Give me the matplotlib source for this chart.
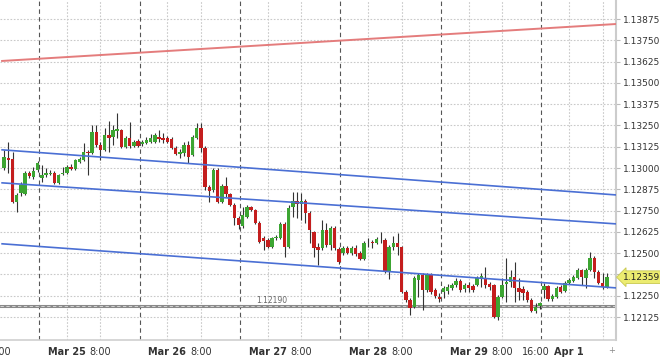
import matplotlib
matplotlib.use("Agg")
import matplotlib.pyplot as plt
import matplotlib.transforms as mtransforms
import pandas as pd

# EUR/USD hourly candles (weekends skipped)
times = list(pd.date_range("2019-03-22 09:00", "2019-03-22 16:00", freq="h")) + \
        list(pd.date_range("2019-03-24 17:00", "2019-03-29 16:00", freq="h")) + \
        list(pd.date_range("2019-03-31 17:00", "2019-04-01 09:00", freq="h"))

opens = [1.13001, 1.13060, 1.13054, 1.12801, 1.12854, 1.12848, 1.12972, 1.12948, 1.12989, 1.12942,
         1.12960, 1.12966, 1.12972, 1.12913, 1.12966, 1.12972, 1.13007, 1.12995, 1.13036, 1.13048,
         1.13095, 1.13089, 1.13212, 1.13136, 1.13107, 1.13195, 1.13183, 1.13218, 1.13224, 1.13124,
         1.13177, 1.13130, 1.13159, 1.13142, 1.13148, 1.13154, 1.13154, 1.13183, 1.13177, 1.13177,
         1.13171, 1.13118, 1.13083, 1.13089, 1.13136, 1.13077, 1.13177, 1.13236, 1.13118, 1.12889,
         1.12872, 1.12989, 1.12801, 1.12895, 1.12848, 1.12784, 1.12707, 1.12660, 1.12713, 1.12772,
         1.12754, 1.12678, 1.12590, 1.12578, 1.12537, 1.12590, 1.12590, 1.12672, 1.12537, 1.12772,
         1.12807, 1.12790, 1.12807, 1.12737, 1.12625, 1.12537, 1.12531, 1.12637, 1.12549, 1.12649,
         1.12525, 1.12502, 1.12531, 1.12502, 1.12531, 1.12502, 1.12467, 1.12567, 1.12567, 1.12561,
         1.12578, 1.12578, 1.12390, 1.12537, 1.12561, 1.12537, 1.12273, 1.12226, 1.12185, 1.12343,
         1.12373, 1.12285, 1.12373, 1.12285, 1.12244, 1.12273, 1.12279, 1.12296, 1.12314, 1.12338,
         1.12291, 1.12314, 1.12308, 1.12314, 1.12355, 1.12355, 1.12320, 1.12314, 1.12126, 1.12244,
         1.12320, 1.12332, 1.12361, 1.12296, 1.12291, 1.12273, 1.12226, 1.12161, 1.12191, 1.12285,
         1.12308, 1.12232, 1.12244, 1.12302, 1.12279, 1.12326, 1.12338, 1.12355, 1.12402, 1.12355,
         1.12402, 1.12473, 1.12390, 1.12326, 1.12302]
highs = [1.13107, 1.13154, 1.13095, 1.12854, 1.12919, 1.12983, 1.12983, 1.13007, 1.13042, 1.13018,
         1.13001, 1.12989, 1.12983, 1.12966, 1.13007, 1.13018, 1.13024, 1.13054, 1.13065, 1.13148,
         1.13107, 1.13253, 1.13253, 1.13154, 1.13236, 1.13277, 1.13253, 1.13324, 1.13230, 1.13189,
         1.13271, 1.13165, 1.13171, 1.13165, 1.13183, 1.13200, 1.13206, 1.13224, 1.13206, 1.13189,
         1.13183, 1.13130, 1.13112, 1.13154, 1.13159, 1.13195, 1.13265, 1.13265, 1.13130, 1.12901,
         1.13001, 1.13001, 1.12907, 1.12948, 1.12854, 1.12795, 1.12719, 1.12772, 1.12784, 1.12778,
         1.12760, 1.12690, 1.12602, 1.12590, 1.12596, 1.12608, 1.12684, 1.12684, 1.12784, 1.12860,
         1.12860, 1.12854, 1.12819, 1.12748, 1.12631, 1.12561, 1.12696, 1.12678, 1.12660, 1.12660,
         1.12537, 1.12543, 1.12543, 1.12543, 1.12549, 1.12514, 1.12572, 1.12590, 1.12578, 1.12596,
         1.12625, 1.12590, 1.12549, 1.12602, 1.12619, 1.12543, 1.12285, 1.12238, 1.12367, 1.12385,
         1.12385, 1.12385, 1.12385, 1.12296, 1.12267, 1.12308, 1.12320, 1.12326, 1.12355, 1.12349,
         1.12326, 1.12332, 1.12320, 1.12367, 1.12385, 1.12420, 1.12332, 1.12320, 1.12255, 1.12355,
         1.12473, 1.12402, 1.12449, 1.12355, 1.12308, 1.12285, 1.12238, 1.12208, 1.12214, 1.12326,
         1.12314, 1.12261, 1.12308, 1.12314, 1.12338, 1.12355, 1.12373, 1.12414, 1.12408, 1.12414,
         1.12508, 1.12484, 1.12402, 1.12385, 1.12385]
lows = [1.12989, 1.12972, 1.12795, 1.12743, 1.12837, 1.12842, 1.12942, 1.12936, 1.12977, 1.12919,
        1.12948, 1.12960, 1.12907, 1.12907, 1.12960, 1.12966, 1.12989, 1.12989, 1.13030, 1.13042,
        1.12960, 1.13083, 1.13124, 1.13048, 1.13101, 1.13095, 1.13136, 1.13177, 1.13118, 1.13118,
        1.13118, 1.13124, 1.13124, 1.13130, 1.13142, 1.13148, 1.13148, 1.13154, 1.13148, 1.13148,
        1.13112, 1.13077, 1.13060, 1.13071, 1.13030, 1.13071, 1.13171, 1.13095, 1.12872, 1.12801,
        1.12860, 1.12795, 1.12795, 1.12831, 1.12778, 1.12666, 1.12643, 1.12649, 1.12707, 1.12748,
        1.12672, 1.12561, 1.12520, 1.12531, 1.12531, 1.12578, 1.12584, 1.12478, 1.12531, 1.12713,
        1.12707, 1.12696, 1.12678, 1.12561, 1.12478, 1.12431, 1.12520, 1.12537, 1.12520, 1.12520,
        1.12437, 1.12490, 1.12496, 1.12490, 1.12484, 1.12461, 1.12461, 1.12537, 1.12531, 1.12555,
        1.12561, 1.12385, 1.12349, 1.12520, 1.12490, 1.12267, 1.12214, 1.12138, 1.12179, 1.12244,
        1.12167, 1.12273, 1.12261, 1.12238, 1.12214, 1.12238, 1.12261, 1.12285, 1.12302, 1.12273,
        1.12273, 1.12273, 1.12273, 1.12308, 1.12302, 1.12296, 1.12285, 1.12120, 1.12109, 1.12238,
        1.12214, 1.12302, 1.12214, 1.12226, 1.12226, 1.12214, 1.12156, 1.12150, 1.12173, 1.12238,
        1.12220, 1.12220, 1.12238, 1.12267, 1.12273, 1.12320, 1.12332, 1.12349, 1.12314, 1.12296,
        1.12396, 1.12355, 1.12320, 1.12291, 1.12296]
closes = [1.13065, 1.13048, 1.12801, 1.12842, 1.12901, 1.12972, 1.12954, 1.12983, 1.13030, 1.12960,
          1.12972, 1.12972, 1.12913, 1.12960, 1.12972, 1.13007, 1.12995, 1.13048, 1.13054, 1.13095,
          1.13089, 1.13212, 1.13136, 1.13107, 1.13195, 1.13177, 1.13224, 1.13230, 1.13124, 1.13177,
          1.13130, 1.13154, 1.13130, 1.13154, 1.13165, 1.13177, 1.13195, 1.13171, 1.13165, 1.13154,
          1.13118, 1.13083, 1.13095, 1.13136, 1.13065, 1.13183, 1.13236, 1.13118, 1.12889, 1.12866,
          1.12989, 1.12801, 1.12895, 1.12848, 1.12784, 1.12707, 1.12666, 1.12725, 1.12772, 1.12754,
          1.12678, 1.12567, 1.12572, 1.12537, 1.12590, 1.12596, 1.12672, 1.12537, 1.12766, 1.12807,
          1.12790, 1.12807, 1.12737, 1.12637, 1.12531, 1.12520, 1.12637, 1.12549, 1.12649, 1.12531,
          1.12449, 1.12531, 1.12502, 1.12531, 1.12496, 1.12467, 1.12561, 1.12564, 1.12558, 1.12584,
          1.12575, 1.12390, 1.12537, 1.12561, 1.12537, 1.12273, 1.12226, 1.12179, 1.12355, 1.12373,
          1.12285, 1.12373, 1.12273, 1.12249, 1.12232, 1.12296, 1.12302, 1.12314, 1.12338, 1.12285,
          1.12314, 1.12296, 1.12285, 1.12355, 1.12367, 1.12314, 1.12302, 1.12126, 1.12244, 1.12314,
          1.12332, 1.12361, 1.12296, 1.12273, 1.12267, 1.12226, 1.12161, 1.12185, 1.12208, 1.12308,
          1.12232, 1.12249, 1.12296, 1.12273, 1.12326, 1.12343, 1.12361, 1.12402, 1.12361, 1.12402,
          1.12473, 1.12390, 1.12326, 1.12302, 1.12359]

# drawn lines: (time, price) end points
red_line = [("2019-03-22 08:30", 1.13629), ("2019-04-01 11:15", 1.13846)]
blue_lines = [[("2019-03-22 08:30", 1.13107), ("2019-04-01 11:15", 1.12842)],
              [("2019-03-22 08:30", 1.12913), ("2019-04-01 11:15", 1.12672)],
              [("2019-03-22 08:30", 1.12555), ("2019-04-01 11:15", 1.12296)]]
level = 1.12190

tick_times = ["2019-03-22 08:00", "2019-03-25 00:00", "2019-03-25 08:00", "2019-03-26 00:00",
              "2019-03-26 08:00", "2019-03-27 00:00", "2019-03-27 08:00", "2019-03-28 00:00",
              "2019-03-28 08:00", "2019-03-29 00:00", "2019-03-29 08:00", "2019-03-29 16:00",
              "2019-04-01 00:00"]
tick_labels = ["8:00", "Mar 25", "8:00", "Mar 26", "8:00", "Mar 27", "8:00", "Mar 28",
               "8:00", "Mar 29", "8:00", "16:00", "Apr 1"]
grid_times = ["2019-03-25 00:00", "2019-03-25 08:00", "2019-03-26 00:00", "2019-03-26 08:00",
              "2019-03-27 00:00", "2019-03-27 08:00", "2019-03-28 00:00", "2019-03-28 08:00",
              "2019-03-29 00:00", "2019-03-29 08:00", "2019-04-01 00:00", "2019-04-01 08:00"]
session_times = ["2019-03-24 17:00", "2019-03-25 17:00", "2019-03-26 17:00",
                 "2019-03-27 17:00", "2019-03-28 17:00", "2019-03-31 17:00"]

origin = pd.Timestamp("2019-03-25 00:00")


def slot(t):
    t = pd.Timestamp(t)
    h = (t - origin) / pd.Timedelta(hours=1)
    if t < pd.Timestamp("2019-03-24 17:00"):
        h += 48
    elif t >= pd.Timestamp("2019-03-31 17:00"):
        h -= 48
    return h


fig = plt.figure(figsize=(6.6, 3.58), dpi=100)
ax = fig.add_axes([0, 1 - 340 / 358, 616 / 660, 340 / 358])

yt = [1.12125 + 0.00125 * k for k in range(15)]
for y in yt:
    ax.axhline(y, color="#c9c9c9", lw=0.8, ls=(0, (1.5, 1.5)), zorder=0)
for t in grid_times:
    ax.axvline(slot(t), color="#c9c9c9", lw=0.8, ls=(0, (1.5, 1.5)), zorder=0)
for t in session_times:
    ax.axvline(slot(t) + 0.35, color="#555555", lw=0.8, ls=(0, (4, 3)), zorder=1)

# support level
ax.axhline(level, color="#8a8a8a", lw=2.2, zorder=1)
ax.axhline(level, color="#dddddd", lw=0.6, ls=(0, (4, 3)), zorder=1)
ax.text(slot("2019-03-27 01:00"), level + 0.00003, "%.5f" % level, fontsize=5.5,
        color="#666666", ha="center", va="bottom")

# candles
xs = [slot(t) for t in times]
for x, o, h, l, c in zip(xs, opens, highs, lows, closes):
    col = "#3ca532" if c >= o else "#c41e1e"
    ax.vlines(x, l, h, color="#333333", lw=0.8, zorder=2)
    ax.bar(x, max(abs(c - o), 0.00002), bottom=min(o, c), width=0.82, color=col, zorder=3)

# trend lines
(t0, p0), (t1, p1) = red_line
ax.plot([slot(t0), slot(t1)], [p0, p1], color="#e47c7c", lw=1.4, zorder=4)
for (t0, p0), (t1, p1) in blue_lines:
    ax.plot([slot(t0), slot(t1)], [p0, p1], color="#4a6fd4", lw=1.2, zorder=4)

ax.set_xlim(-15.48, 131.2)
ax.set_ylim(1.11990, 1.13987)

ax.yaxis.tick_right()
ax.set_yticks(yt)
ax.set_yticklabels(["" if abs(y - 1.12375) < 1e-6 else "%.5f" % y for y in yt])
ax.tick_params(axis="y", length=3, width=0.8, color="#bbbbbb", pad=2, labelsize=6.5,
               labelcolor="#333333")
ax.set_xticks([slot(t) for t in tick_times])
ax.set_xticklabels(tick_labels)
ax.tick_params(axis="x", length=0, pad=5, labelsize=7, labelcolor="#333333")
for lab in ax.get_xticklabels():
    if not lab.get_text()[0].isdigit():
        lab.set_fontweight("bold")

for s in ["top", "left"]:
    ax.spines[s].set_visible(False)
ax.spines["right"].set_color("#cccccc")
ax.spines["right"].set_linewidth(1.5)
ax.spines["bottom"].set_color("#d0d0d0")
ax.spines["bottom"].set_linewidth(1.2)

# current price tag
tr = mtransforms.blended_transform_factory(ax.transAxes, ax.transData)
ax.text(1.012, closes[-1], "%.5f" % closes[-1], transform=tr, fontsize=6.5, color="#222222",
        va="center", ha="left",
        bbox=dict(boxstyle="larrow,pad=0.2", fc="#ecec70", ec="#c8c850", lw=0.6))
ax.text(1.012, 1.14, "1.14000", transform=tr, fontsize=6.5, color="#333333",
        va="center", ha="left", clip_on=False)
ax.text(0.988, -0.03, "+", transform=ax.transAxes, fontsize=6, color="#888888",
        ha="left", va="center")

fig.savefig("out.png", dpi=100, facecolor="white")
